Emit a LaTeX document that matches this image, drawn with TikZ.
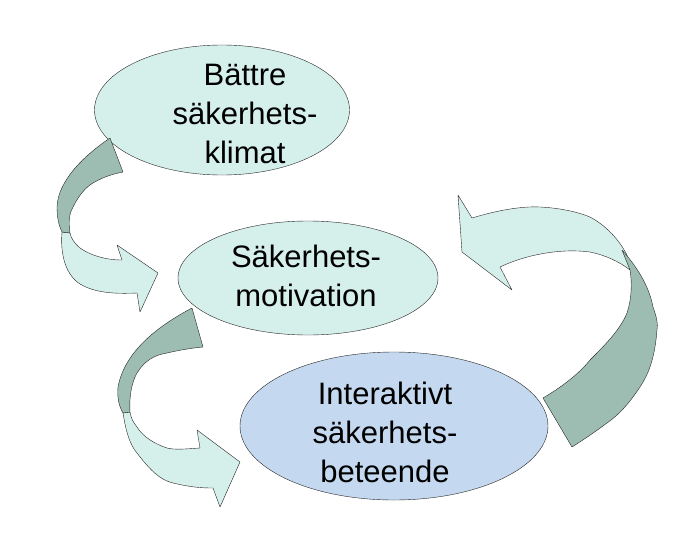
\documentclass[tikz,border=0pt]{standalone}
\usepackage{fontspec}
\setmainfont{Liberation Sans}
\usetikzlibrary{shapes.geometric}
\definecolor{mint}{HTML}{D5EFEA}
\definecolor{skyb}{HTML}{C4D8EF}
\definecolor{teal}{HTML}{9DBDB2}
\tikzset{
  bubble/.style={draw=black!85,ellipse,fill=mint,align=center,font=\fontsize{31}{39}\selectfont,inner sep=0pt},
  label/.style={align=center,font=\fontsize{31}{39}\selectfont},
  bandlight/.style={draw=black!85,fill=mint,line join=round},
  banddark/.style={draw=black!85,fill=teal,line join=round}
}
\begin{document}
\begin{tikzpicture}[x=1pt,y=-1pt]
  \useasboundingbox (0,0) rectangle (673,555);
  % ellipses
  \node[bubble,minimum width=255pt,minimum height=130pt] (klimat) at (222,110) {};
  \node[label] (klimattxt) at (245,114) {Bättre\\säkerhets-\\klimat};
  \node[bubble,minimum width=260pt,minimum height=114pt] (motiv) at (308,278) {};
  \node[label] (motivtxt) at (306,276) {Säkerhets-\\motivation};
  \node[bubble,fill=skyb,minimum width=308pt,minimum height=148pt] (beteende) at (394,426) {};
  \node[label] (beteendetxt) at (385,432) {Interaktivt\\säkerhets-\\beteende};
  % arrow from klimat to motivation
  \draw[bandlight] (62,232) .. controls (60,255) and (66,275) .. (80,284)
    .. controls (95,293) and (115,294) .. (137,293) -- (140,312) -- (158,273)
    -- (117,245) -- (122,260) .. controls (105,260) and (90,255) .. (80,248)
    .. controls (74,243) and (71,238) .. (70,233) -- cycle;
  \draw[banddark] (110,138) .. controls (85,155) and (58,180) .. (57,207)
    .. controls (57,218) and (59,226) .. (62,232) -- (70,233)
    .. controls (68,220) and (70,212) .. (73,207)
    .. controls (79,195) and (86,187) .. (93,183)
    .. controls (103,177) and (113,174) .. (123,172) -- cycle;
  % arrow from motivation to beteende
  \draw[bandlight] (123,413) .. controls (126,432) and (130,445) .. (137,453)
    .. controls (150,470) and (160,480) .. (173,483)
    .. controls (190,487) and (200,488) .. (213,488) -- (220,507) -- (240,462)
    -- (197,430) -- (200,448) .. controls (185,449) and (175,450) .. (167,448)
    .. controls (155,444) and (143,437) .. (137,427)
    .. controls (133,422) and (131,418) .. (130,412) -- cycle;
  \draw[banddark] (192,308) .. controls (160,325) and (125,350) .. (118,387)
    .. controls (117,398) and (119,406) .. (123,413) -- (130,412)
    .. controls (129,395) and (132,382) .. (137,373)
    .. controls (145,360) and (155,355) .. (167,353)
    .. controls (180,350) and (192,348) .. (203,347) -- cycle;
  % arrow from beteende back to motivation
  \draw[bandlight] (458,195) -- (472,218) .. controls (495,211) and (520,206) .. (540,207)
    .. controls (560,208) and (578,212) .. (590,217)
    .. controls (605,225) and (618,238) .. (627,255)
    -- (630,270) .. controls (620,262) and (605,255) .. (590,252)
    .. controls (560,248) and (525,255) .. (500,267) -- (512,290) -- (462,252) -- cycle;
  \draw[banddark] (622,250) .. controls (640,270) and (650,290) .. (653,307)
    .. controls (657,318) and (658,324) .. (657,330)
    .. controls (655,355) and (650,372) .. (640,387)
    .. controls (630,402) and (620,414) .. (607,423)
    .. controls (595,432) and (583,440) .. (572,447) -- (543,398)
    .. controls (560,388) and (578,375) .. (590,360)
    .. controls (605,345) and (620,330) .. (627,313)
    .. controls (632,298) and (632,282) .. (630,270) -- cycle;
\end{tikzpicture}
\end{document}
